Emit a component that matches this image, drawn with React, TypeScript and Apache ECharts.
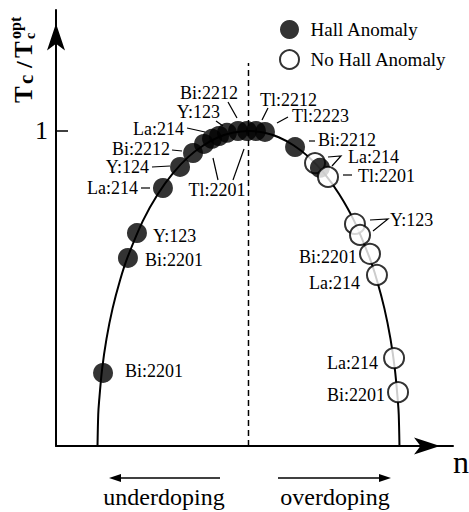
import React, { useEffect, useRef } from 'react';
import * as echarts from 'echarts';

// Curve (doping n vs Tc/Tc_opt)
const curveN = [0.0345, 0.0351, 0.0358, 0.0383, 0.042, 0.047, 0.0533, 0.0596, 0.0721, 0.0847, 0.0973, 0.1098, 0.1224, 0.1349, 0.1475, 0.16, 0.1725, 0.1851, 0.1977, 0.2102, 0.2228, 0.2353, 0.2479, 0.2604, 0.2667, 0.273, 0.278, 0.2817, 0.2842, 0.2849, 0.2855];
const curveTc = [0, 0.1, 0.141, 0.243, 0.341, 0.436, 0.527, 0.6, 0.714, 0.8, 0.866, 0.917, 0.954, 0.98, 0.995, 1, 0.995, 0.98, 0.954, 0.917, 0.866, 0.8, 0.714, 0.6, 0.527, 0.436, 0.341, 0.243, 0.141, 0.1, 0];

// Hall anomaly (filled circles)
const hallN = [0.0391, 0.0598, 0.0673, 0.0889, 0.1031, 0.1139, 0.123, 0.1297, 0.1355, 0.1421, 0.1513, 0.1588, 0.1662, 0.1737, 0.1987, 0.2194];
const hallTc = [0.232, 0.597, 0.676, 0.819, 0.886, 0.93, 0.959, 0.975, 0.984, 0.994, 1.0, 1.0, 1.0, 0.997, 0.949, 0.883];

// No Hall anomaly (open circles)
const noHallN = [0.2153, 0.2261, 0.2485, 0.2527, 0.261, 0.2668, 0.281, 0.2843];
const noHallTc = [0.898, 0.854, 0.705, 0.67, 0.61, 0.543, 0.279, 0.171];

const optimalN = 0.16;
const dashTop = 1.216;
const yTicks = [1];

const FONT = 'Liberation Serif, Times New Roman, serif';

// annotation layout (pixels)
const labelTexts: [string, number, number, string][] = [
  ['Bi:2201', 125, 371, 'left'],
  ['Bi:2201', 145, 260, 'left'],
  ['Y:123', 153, 236, 'left'],
  ['La:214', 138, 188, 'right'],
  ['Y:124', 149, 167, 'right'],
  ['Bi:2212', 170, 149, 'right'],
  ['La:214', 184, 129, 'right'],
  ['Y:123', 220, 112, 'right'],
  ['Bi:2212', 238, 93, 'right'],
  ['Tl:2201', 217, 190, 'center'],
  ['Tl:2212', 260, 100, 'left'],
  ['Tl:2223', 292, 116, 'left'],
  ['Bi:2212', 318, 140, 'left'],
  ['La:214', 348, 157, 'left'],
  ['Tl:2201', 358, 176, 'left'],
  ['Y:123', 390, 220, 'left'],
  ['Bi:2201', 357, 257, 'right'],
  ['La:214', 360, 283, 'right'],
  ['La:214', 378, 363, 'right'],
  ['Bi:2201', 385, 395, 'right'],
];

const leaders: number[][][] = [
  [[141, 188], [150, 188]],
  [[152, 167], [170, 166]],
  [[172, 150], [182, 151]],
  [[187, 128], [205, 132]],
  [[216, 121], [223, 126]],
  [[228, 102], [237, 118]],
  [[218, 180], [213, 158]],
  [[233, 180], [244, 149]],
  [[268, 108], [262, 120]],
  [[288, 117], [277, 123]],
  [[309, 141], [315, 141]],
  [[328, 157], [341, 156], [332, 166]],
  [[343, 175], [352, 175]],
  [[370, 220], [388, 219], [373, 231]],
];

function zip(a: number[], b: number[]) {
  return a.map((v, i) => [v, b[i]]);
}

export default function App() {
  const ref = useRef<HTMLDivElement>(null);
  useEffect(() => {
    document.body.style.margin = '0';
    const chart = echarts.init(ref.current!, null, { renderer: 'svg' });
    const black = '#000';
    const openData = zip(noHallN, noHallTc);

    const graphics: any[] = [];
    labelTexts.forEach(([t, x, y, a]) => {
      graphics.push({
        type: 'text', x, y,
        style: { text: t, fontFamily: FONT, fontSize: 18, fill: black, align: a, verticalAlign: 'middle' },
      });
    });
    leaders.forEach((pts) => {
      graphics.push({
        type: 'polyline',
        shape: { points: pts },
        style: { stroke: black, lineWidth: 1.2, fill: null },
      });
    });
    // doping arrows
    graphics.push({ type: 'line', shape: { x1: 116, y1: 478, x2: 220, y2: 478 }, style: { stroke: black, lineWidth: 1.5 } });
    graphics.push({ type: 'polygon', shape: { points: [[109, 478], [121, 474], [121, 482]] }, style: { fill: black } });
    graphics.push({ type: 'line', shape: { x1: 278, y1: 478, x2: 384, y2: 478 }, style: { stroke: black, lineWidth: 1.5 } });
    graphics.push({ type: 'polygon', shape: { points: [[391, 478], [379, 474], [379, 482]] }, style: { fill: black } });
    graphics.push({ type: 'text', x: 164, y: 497, style: { text: 'underdoping', fontFamily: FONT, fontSize: 24, fill: black, align: 'center', verticalAlign: 'middle' } });
    graphics.push({ type: 'text', x: 335, y: 497, style: { text: 'overdoping', fontFamily: FONT, fontSize: 24, fill: black, align: 'center', verticalAlign: 'middle' } });
    graphics.push({ type: 'text', x: 453, y: 462, style: { text: 'n', fontFamily: FONT, fontSize: 32, fill: black, align: 'left', verticalAlign: 'middle' } });

    // y-axis title: Tc / Tc^opt, rotated
    const t = (text: string, x: number, base: number, size: number) => ({
      type: 'text', x, y: base - 0.34 * size,
      style: { text, fontFamily: FONT, fontWeight: 'bold', fontSize: size, fill: black, align: 'left', verticalAlign: 'middle' },
    });
    graphics.push({
      type: 'group', x: 32, y: 103, rotation: Math.PI / 2,
      children: [
        t('T', 0, 0, 25),
        t('c', 19, 1, 21),
        t('/', 35, 0, 24),
        t('T', 45, 0, 25),
        t('c', 64, 3, 14),
        t('opt', 64, -11, 16),
      ],
    });

    const scatterBase = { type: 'scatter', symbol: 'circle', symbolSize: 20, z: 3 };
    const openStyle = { color: '#fff', borderColor: black, borderWidth: 2 };

    chart.setOption({
      animation: false,
      grid: { left: 56, right: 16, top: 10, bottom: 66 },
      xAxis: {
        type: 'value', min: 0, max: 0.33,
        axisLine: { show: true, onZero: false, symbol: ['none', 'arrow'], symbolSize: [12.75, 26], symbolOffset: [0, -13], lineStyle: { color: black, width: 2 } },
        axisTick: { show: false }, axisLabel: { show: false }, splitLine: { show: false },
      },
      yAxis: {
        type: 'value', min: 0, max: 1.384,
        axisLine: { show: true, onZero: false, symbol: ['none', 'arrow'], symbolSize: [13.5, 27], symbolOffset: [0, -13.5], lineStyle: { color: black, width: 2 } },
        axisTick: { show: true, inside: true, length: 12, customValues: yTicks, lineStyle: { color: black, width: 1.5 } },
        axisLabel: { show: true, customValues: yTicks, fontSize: 26, fontFamily: FONT, color: black, margin: 8 },
        splitLine: { show: false },
      },
      legend: {
        data: [
          { name: 'Hall Anomaly', icon: 'circle', itemStyle: { color: black, borderWidth: 0 } },
          { name: 'No Hall Anomaly', icon: 'circle', itemStyle: openStyle },
        ],
        orient: 'vertical', left: 274, top: 15, itemWidth: 32, itemHeight: 19, itemGap: 10,
        textStyle: { fontFamily: FONT, fontSize: 19, color: black },
        selectedMode: false,
      },
      series: [
        {
          type: 'line', data: zip(curveN, curveTc), showSymbol: false, smooth: 0.3,
          lineStyle: { color: black, width: 2 }, z: 1, silent: true,
        },
        {
          type: 'line', data: [[optimalN, 0], [optimalN, dashTop]], showSymbol: false,
          lineStyle: { color: black, width: 1.5, type: [6, 4] }, z: 1, silent: true,
        },
        { ...scatterBase, name: 'No Hall Anomaly', data: openData.slice(0, 1), itemStyle: openStyle },
        { ...scatterBase, name: 'Hall Anomaly', data: zip(hallN, hallTc), itemStyle: { color: black } },
        { ...scatterBase, name: 'No Hall Anomaly', data: openData.slice(1), itemStyle: openStyle },
      ],
      graphic: graphics,
    });
    return () => chart.dispose();
  }, []);
  return <div ref={ref} style={{ width: 469, height: 512 }} />;
}
